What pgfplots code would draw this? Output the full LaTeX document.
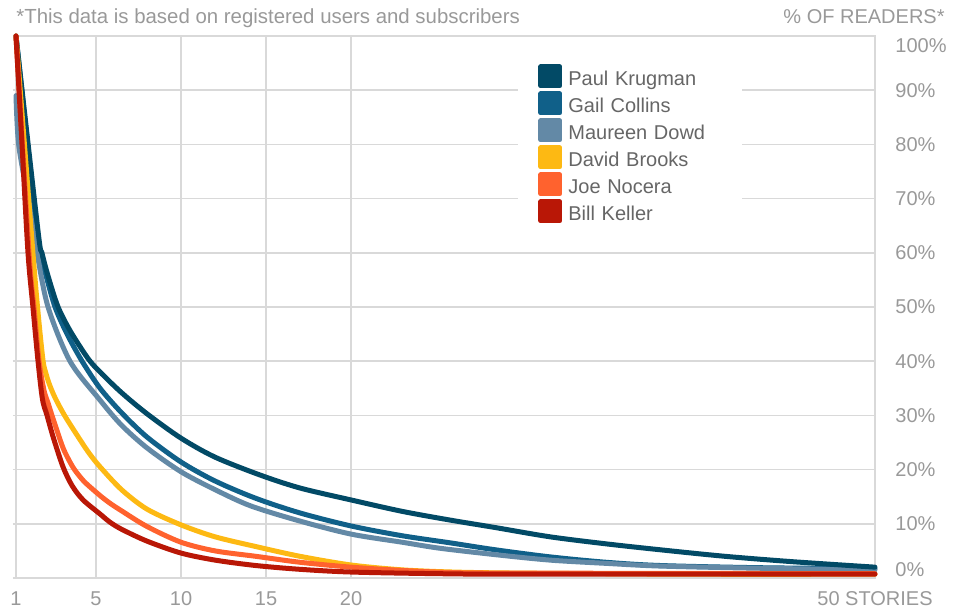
\documentclass[border=0pt]{standalone}
\usepackage{fontspec}
\setmainfont{Liberation Sans}
\usepackage{pgfplots}
\pgfplotsset{compat=1.18}
\definecolor{ckrug}{RGB}{2,74,102}
\definecolor{ccoll}{RGB}{16,96,137}
\definecolor{cdowd}{RGB}{99,137,166}
\definecolor{cbrook}{RGB}{253,185,19}
\definecolor{cnoc}{RGB}{255,98,46}
\definecolor{ckell}{RGB}{185,23,6}
\definecolor{gridgray}{RGB}{217,217,217}
\definecolor{labelgray}{RGB}{153,153,153}
\definecolor{legendgray}{RGB}{102,102,102}
\begin{document}
\begin{tikzpicture}
\begin{axis}[
  at={(0pt,0pt)}, anchor=south west,
  scale only axis, width=429.5pt, height=271pt,
  xmin=0.294, xmax=50.82, ymin=0, ymax=100,
  clip=false,
  xtick={0.294,5,10,15,20,50.82},
  xticklabels={1,5,10,15,20,50 STORIES},
  ytick={0,10,...,100},
  yticklabels={{},10\%,20\%,30\%,40\%,50\%,60\%,70\%,80\%,90\%,{}},
  ytick pos=left, yticklabel pos=right,
  xtick pos=bottom,
  tick align=inside,
  major tick length=1.5pt,
  xtick style={draw=none},
  ytick style={draw=gridgray, line width=0.75pt, xshift=-1.5pt},
  xmajorgrids, ymajorgrids,
  major grid style={draw=gridgray, line width=0.75pt},
  axis line style={draw=gridgray, line width=0.75pt},
  ticklabel style={font=\fontsize{10pt}{12pt}\selectfont, text=labelgray},
  xticklabel style={inner sep=0pt, yshift=-6.5pt},
  yticklabel style={inner sep=0pt, xshift=10pt},
  legend style={at={(0.5844,0.9742)}, anchor=north west, draw=none, fill=white,
    inner xsep=10pt, inner ysep=7pt, row sep=0.55pt,
    font=\fontsize{10pt}{12pt}\selectfont, text=legendgray,
    nodes={inner sep=0pt, text height=7.5pt, text depth=2.2pt, text width=77pt, align=left},
    /tikz/every odd column/.append style={column sep=3pt}},
  legend cell align=left,
  legend image code/.code={\fill[#1] (0pt,-2.65pt) rectangle (9.5pt,6.85pt);},
  every axis plot/.append style={line width=2.5pt, line join=round, line cap=round, smooth, tension=0.5},
]
\addlegendimage{color=ckrug}\addlegendentry{Paul Krugman}
\addlegendimage{color=ccoll}\addlegendentry{Gail Collins}
\addlegendimage{color=cdowd}\addlegendentry{Maureen Dowd}
\addlegendimage{color=cbrook}\addlegendentry{David Brooks}
\addlegendimage{color=cnoc}\addlegendentry{Joe Nocera}
\addlegendimage{color=ckell}\addlegendentry{Bill Keller}

% Gail Collins
\addplot[ccoll, forget plot] coordinates {(0.294,100) (1.55,63) (1.71,60) (2.0,56.5) (2.59,50) (3.3,45) (4.18,40) (5.24,35) (6.5,30.5) (8,26) (10,21.4) (12,17.9) (14.4,14.7) (17,12) (20,9.6) (23,7.8) (25.8,6.5) (28.5,5.2) (31.7,3.9) (35,2.9) (38.2,2.3) (44,1.9) (50.82,1.7)};
% Maureen Dowd
\addplot[cdowd, forget plot] coordinates {(0.294,89) (0.45,80) (1.0,70) (1.53,60) (2.18,50) (3.47,40) (5.24,32.8) (6.5,28.2) (8,24) (10,19.6) (12,16.3) (14.1,13.3) (17,10.5) (20,8.1) (23,6.6) (25.2,5.5) (28.5,4.3) (31.7,3.3) (35,2.7) (38.2,2.2) (44,1.8) (50.82,1.5)};
% Paul Krugman
\addplot[ckrug, forget plot] coordinates {(0.294,100) (1.59,64) (1.82,60) (2.2,55.5) (2.77,50) (3.5,45.5) (4.53,40.5) (5.24,38) (6.5,34.2) (8,30.3) (10,25.8) (12,22.3) (14.65,19) (17,16.6) (20,14.4) (23,12.3) (25.8,10.7) (28.5,9.3) (31.7,7.6) (35,6.3) (38.2,5.2) (42,4.0) (46,3.0) (50.82,2.0)};
% David Brooks
\addplot[cbrook, forget plot] coordinates {(0.294,100) (1.29,60) (1.59,49) (1.88,40.2) (2.05,37.8) (2.25,35.8) (2.6,33.2) (3.15,30) (4,25.8) (4.6,23) (5.24,20.5) (6.5,16.3) (8,12.7) (10,9.8) (12,7.6) (14.4,5.8) (17,4.0) (20,2.4) (23,1.5) (26,1.1) (30,0.9) (40,0.7) (50.82,0.7)};
% Joe Nocera
\addplot[cnoc, forget plot] coordinates {(0.294,100) (1.06,60) (1.35,50) (1.65,40) (1.95,34.5) (2.18,32.3) (2.41,30) (3.0,24.5) (3.3,22.4) (3.65,20.4) (4.0,18.9) (4.4,17.5) (5.24,15.2) (5.82,13.8) (6.5,12.4) (8,9.5) (10,6.6) (12,5.0) (14.4,4.0) (17,2.9) (20,2.0) (23,1.4) (26,1.0) (30,0.9) (50.82,0.8)};
% Bill Keller
\addplot[ckell, forget plot] coordinates {(0.294,100) (0.647,80) (1.0,60) (1.29,50) (1.59,40) (1.85,33) (2.12,30) (2.5,25.8) (3.06,20.5) (3.6,17) (4.24,14.4) (5.24,11.8) (5.82,10.3) (6.5,9) (8,6.8) (10,4.6) (12,3.3) (14.4,2.3) (17,1.6) (20,1.1) (25,0.8) (30,0.7) (50.82,0.7)};

\node[anchor=base west, inner sep=0pt, text=labelgray, font=\fontsize{10.2pt}{12pt}\selectfont, yshift=6pt] at (rel axis cs:0,1) {*This data is based on registered users and subscribers};
\node[anchor=base east, inner sep=0pt, text=labelgray, font=\fontsize{10pt}{12pt}\selectfont, xshift=35pt, yshift=6pt] at (rel axis cs:1,1) {\% OF READERS*};
\node[anchor=north west, inner sep=0pt, text=labelgray, font=\fontsize{10pt}{12pt}\selectfont, xshift=10pt, yshift=-1pt] at (rel axis cs:1,1) {100\%};
\node[anchor=south west, inner sep=0pt, text=labelgray, font=\fontsize{10pt}{12pt}\selectfont, xshift=10pt, yshift=0.5pt] at (rel axis cs:1,0) {0\%};
\end{axis}
\pgfresetboundingbox
\path[use as bounding box] (-8pt,-15.5pt) rectangle (469.5pt,289pt);
\end{tikzpicture}
\end{document}
